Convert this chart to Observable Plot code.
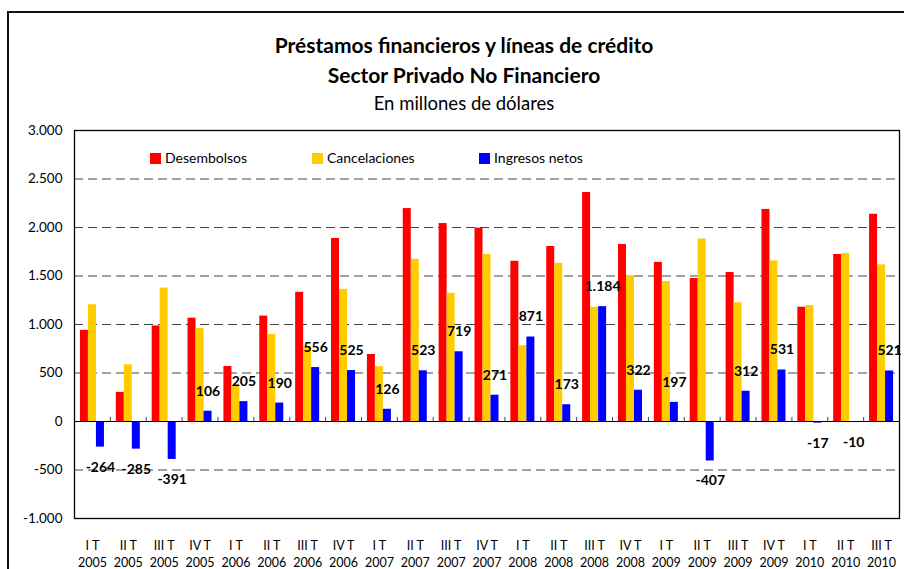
<!DOCTYPE html>
<html><head><meta charset="utf-8">
<script src="https://cdn.jsdelivr.net/npm/d3@7"></script>
<script src="https://cdn.jsdelivr.net/npm/@observablehq/plot@0.6"></script>
<style>
body{margin:0;background:#fff;font-family:Lato,"Open Sans",sans-serif;}
#wrap{position:relative;width:904px;height:569px;overflow:hidden;background:#fff;}
#border{position:absolute;left:7px;top:11px;width:1000px;height:700px;border-left:2px solid #111;border-top:2px solid #111;}
.t{position:absolute;left:0;width:928px;text-align:center;color:#000;white-space:nowrap;}
#chart{position:absolute;left:0;top:0;}
.leg{position:absolute;top:149px;font-size:14px;color:#000;white-space:nowrap;line-height:18px;}
.leg span{display:inline-block;width:11px;height:11px;margin-right:4px;vertical-align:-1px;}
</style></head>
<body>
<div id="wrap">
  <div id="border"></div>
  <div id="chart"></div>
  <div class="t" id="t1" style="top:32px;font-size:21px;font-weight:bold;"></div>
  <div class="t" id="t2" style="top:62px;font-size:21px;font-weight:bold;"></div>
  <div class="t" id="t3" style="top:92px;font-size:18.5px;"></div>
  <div class="leg" id="l0" style="left:150px;"></div>
  <div class="leg" id="l1" style="left:312px;"></div>
  <div class="leg" id="l2" style="left:479px;"></div>
</div>
<script>
const titleLines = ["Préstamos financieros y líneas de crédito", "Sector Privado No Financiero", "En millones de dólares"];
const seriesNames = ["Desembolsos", "Cancelaciones", "Ingresos netos"];
const seriesColors = ["#FF0000", "#FFCC00", "#0000FF"];
const quarters = ["I T","II T","III T","IV T","I T","II T","III T","IV T","I T","II T","III T","IV T","I T","II T","III T","IV T","I T","II T","III T","IV T","I T","II T","III T"];
const years = ["2005","2005","2005","2005","2006","2006","2006","2006","2007","2007","2007","2007","2008","2008","2008","2008","2009","2009","2009","2009","2010","2010","2010"];
const desembolsos = [940,300,985,1065,567,1087,1332,1887,691,2195,2041,1993,1652,1804,2361,1825,1640,1474,1536,2186,1178,1722,2136];
const cancelaciones = [1204,585,1376,959,362,897,776,1362,565,1672,1322,1722,781,1631,1177,1503,1443,1881,1224,1655,1195,1732,1615];
const ingresosNetos = [-264,-285,-391,106,205,190,556,525,126,523,719,271,871,173,1184,322,197,-407,312,531,-17,-10,521];
const yTicks = [-1000,-500,0,500,1000,1500,2000,2500,3000];
const gridTicks = [-500,500,1000,1500,2000,2500];

document.getElementById("t1").textContent = titleLines[0];
document.getElementById("t2").textContent = titleLines[1];
document.getElementById("t3").textContent = titleLines[2];
seriesNames.forEach((n,i)=>{
  const el = document.getElementById("l"+i);
  const sw = document.createElement("span");
  sw.style.background = seriesColors[i];
  el.appendChild(sw);
  el.appendChild(document.createTextNode(n));
});

const loc = d3.formatLocale({decimal:",", thousands:".", grouping:[3], currency:["$",""], minus:"-"});
const fmt = loc.format(",d");

const periods = quarters.map((q,i)=>q+"\n"+years[i]);
const rows = periods.map((p,i)=>({period:p, des:desembolsos[i], can:cancelaciones[i], net:ingresosNetos[i]}));

const W = 904, ML = 74, MR = 5;
const bw = (W - ML - MR) / periods.length;
const barW = 8, pad = (bw - 3*barW) / 2;

const chart = Plot.plot({
  width: W, height: 569,
  marginLeft: ML, marginRight: MR, marginTop: 130, marginBottom: 51,
  style: {fontFamily: "Lato, 'Open Sans', sans-serif", fontSize: "13px", color: "#000", background: "transparent", overflow: "visible"},
  x: {type: "band", domain: periods, padding: 0, round: false},
  y: {domain: [-1000, 3000]},
  marks: [
    Plot.ruleY(gridTicks, {stroke: "#444", strokeDasharray: "9,5", strokeWidth: 1}),
    Plot.barY(rows, {x: "period", y: "des", fill: seriesColors[0], insetLeft: pad, insetRight: bw - pad - barW}),
    Plot.barY(rows, {x: "period", y: "can", fill: seriesColors[1], insetLeft: pad + barW, insetRight: bw - pad - 2*barW}),
    Plot.barY(rows, {x: "period", y: "net", fill: seriesColors[2], insetLeft: pad + 2*barW, insetRight: pad}),
    Plot.ruleY([0], {stroke: "#000", strokeWidth: 1.2}),
    Plot.ruleX(periods.slice(1), {x: d => d, y1: 0, y2: 42, dx: -bw/2, stroke: "#444"}),
    Plot.text(rows.filter(d => d.net >= 0), {x: "period", y: "net", text: d => fmt(d.net), dx: pad + 2.5*barW - bw/2, dy: -20, fontWeight: "bold", fontSize: 14, fill: "#000"}),
    Plot.text(rows.filter(d => d.net < 0), {x: "period", y: "net", text: d => fmt(d.net), dx: pad + 2.5*barW - bw/2, dy: 20, fontWeight: "bold", fontSize: 14, fill: "#000"}),
    Plot.axisY({ticks: yTicks, tickFormat: fmt, tickSize: 0, tickPadding: 12, label: null, fontSize: 13.5}),
    Plot.axisX({tickSize: 0, tickPadding: 20, label: null, fontSize: 12.5, lineHeight: 1.35, fontFamily: "Lato, 'Open Sans', sans-serif"}),
    Plot.frame({stroke: "#000", strokeWidth: 1.3})
  ]
});
document.getElementById("chart").appendChild(chart);
</script>
</body></html>
